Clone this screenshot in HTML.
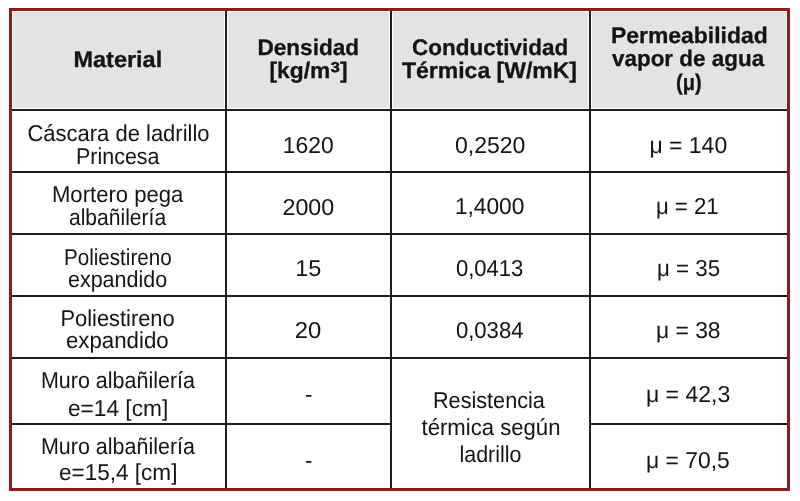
<!DOCTYPE html>
<html><head><meta charset="utf-8"><style>
html,body{margin:0;padding:0;background:#fff;width:800px;height:501px;overflow:hidden}
.r{position:absolute}
.h,.b{position:absolute;left:0;top:0;white-space:nowrap;transform-origin:0 0;color:#141414;text-rendering:geometricPrecision;line-height:30px}
.h{font-weight:bold;font-size:22.5px;font-family:"Liberation Sans",Arial,sans-serif}
.b{font-weight:normal;font-size:23.0px;font-family:"Liberation Sans",Arial,sans-serif}
.h{-webkit-text-stroke:0.35px #141414;text-shadow:0 0 1.2px #fff,0 0 1.2px #fff}
.sup{font-size:1.28em;line-height:0;vertical-align:-4px}
</style></head><body>
<div class="r" style="left:13px;top:12px;width:211px;height:96px;background:#e3e3e3"></div>
<div class="r" style="left:228px;top:12px;width:161px;height:96px;background:#e3e3e3"></div>
<div class="r" style="left:393px;top:12px;width:195px;height:96px;background:#e3e3e3"></div>
<div class="r" style="left:592px;top:12px;width:194px;height:96px;background:#e3e3e3"></div>
<div class="r" style="left:225px;top:10px;width:2px;height:479px;background:#1e1e1e"></div>
<div class="r" style="left:390px;top:10px;width:2px;height:479px;background:#1e1e1e"></div>
<div class="r" style="left:589px;top:10px;width:2px;height:479px;background:#1e1e1e"></div>
<div class="r" style="left:12px;top:109px;width:775px;height:2px;background:#1e1e1e"></div>
<div class="r" style="left:12px;top:171px;width:775px;height:2px;background:#1e1e1e"></div>
<div class="r" style="left:12px;top:233px;width:775px;height:2px;background:#1e1e1e"></div>
<div class="r" style="left:12px;top:295px;width:775px;height:2px;background:#1e1e1e"></div>
<div class="r" style="left:12px;top:357px;width:775px;height:2px;background:#1e1e1e"></div>
<div class="r" style="left:12px;top:423px;width:379px;height:2px;background:#1e1e1e"></div>
<div class="r" style="left:590px;top:423px;width:197px;height:2px;background:#1e1e1e"></div>
<div class="r" style="left:9px;top:7.5px;width:775px;height:477.5px;border:3px solid #8e1c1c"></div>
<div class="h" style="transform:translate(73.45px,44.80px) scaleX(1.0436)">Material</div>
<div class="h" style="transform:translate(257.47px,32.70px) scaleX(1.0030)">Densidad</div>
<div class="h" style="transform:translate(269.51px,56.40px) scaleX(1.0114)">[kg/m<span class="sup">³</span>]</div>
<div class="h" style="transform:translate(412.00px,32.80px) scaleX(1.0003)">Conductividad</div>
<div class="h" style="transform:translate(402.00px,56.40px) scaleX(1.0217)">Térmica [W/mK]</div>
<div class="h" style="transform:translate(610.99px,20.80px) scaleX(1.0187)">Permeabilidad</div>
<div class="h" style="transform:translate(612.00px,43.50px) scaleX(0.9973)">vapor de agua</div>
<div class="h" style="transform:translate(675.93px,67.50px) scaleX(0.8937)">(μ)</div>
<div class="b" style="transform:translate(27.47px,117.50px) scaleX(0.9558)">Cáscara de ladrillo</div>
<div class="b" style="transform:translate(75.96px,140.50px) scaleX(0.9339)">Princesa</div>
<div class="b" style="transform:translate(282.87px,129.50px) scaleX(0.9937)">1620</div>
<div class="b" style="transform:translate(454.97px,129.50px) scaleX(1.0009)">0,2520</div>
<div class="b" style="transform:translate(649.43px,129.50px) scaleX(0.9985)">μ = 140</div>
<div class="b" style="transform:translate(51.96px,179.30px) scaleX(0.9602)">Mortero pega</div>
<div class="b" style="transform:translate(68.99px,202.20px) scaleX(0.9152)">albañilería</div>
<div class="b" style="transform:translate(282.44px,191.50px) scaleX(1.0121)">2000</div>
<div class="b" style="transform:translate(454.90px,191.20px) scaleX(0.9878)">1,4000</div>
<div class="b" style="transform:translate(655.93px,191.20px) scaleX(0.9637)">μ = 21</div>
<div class="b" style="transform:translate(63.97px,241.60px) scaleX(0.8963)">Poliestireno</div>
<div class="b" style="transform:translate(67.96px,263.90px) scaleX(0.9347)">expandido</div>
<div class="b" style="transform:translate(295.22px,253.20px) scaleX(1.0200)">15</div>
<div class="b" style="transform:translate(455.97px,253.00px) scaleX(0.9577)">0,0413</div>
<div class="b" style="transform:translate(656.93px,253.00px) scaleX(0.9710)">μ = 35</div>
<div class="b" style="transform:translate(60.43px,303.20px) scaleX(0.9507)">Poliestireno</div>
<div class="b" style="transform:translate(65.98px,325.20px) scaleX(0.9673)">expandido</div>
<div class="b" style="transform:translate(294.77px,315.00px) scaleX(1.0349)">20</div>
<div class="b" style="transform:translate(455.97px,314.80px) scaleX(0.9586)">0,0384</div>
<div class="b" style="transform:translate(655.93px,314.80px) scaleX(0.9939)">μ = 38</div>
<div class="b" style="transform:translate(40.98px,365.00px) scaleX(0.9335)">Muro albañilería</div>
<div class="b" style="transform:translate(67.93px,392.50px) scaleX(0.9869)">e=14 [cm]</div>
<div class="b" style="transform:translate(304.91px,378.50px) scaleX(0.9643)">-</div>
<div class="b" style="transform:translate(645.93px,378.50px) scaleX(1.0010)">μ = 42,3</div>
<div class="b" style="transform:translate(40.98px,430.90px) scaleX(0.9335)">Muro albañilería</div>
<div class="b" style="transform:translate(58.95px,457.30px) scaleX(0.9805)">e=15,4 [cm]</div>
<div class="b" style="transform:translate(304.91px,444.60px) scaleX(0.9643)">-</div>
<div class="b" style="transform:translate(645.93px,444.60px) scaleX(0.9952)">μ = 70,5</div>
<div class="b" style="transform:translate(432.96px,384.80px) scaleX(0.9415)">Resistencia</div>
<div class="b" style="transform:translate(421.49px,411.60px) scaleX(0.9620)">térmica según</div>
<div class="b" style="transform:translate(459.47px,439.20px) scaleX(0.9327)">ladrillo</div>
</body></html>
